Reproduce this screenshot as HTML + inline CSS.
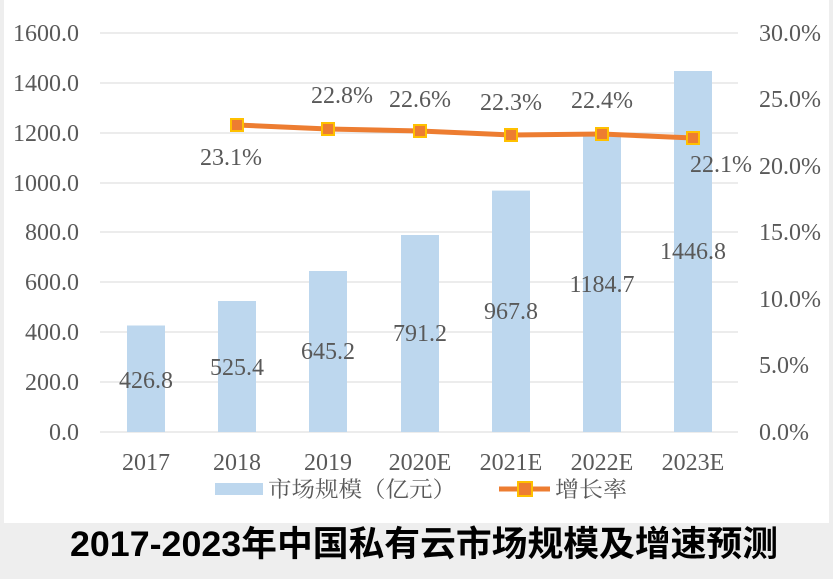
<!DOCTYPE html>
<html><head><meta charset="utf-8"><style>
body{margin:0;background:#eeeeee;}
svg{display:block}
text{font-family:"Liberation Serif","Noto Serif CJK SC",serif;fill:#595959}
</style></head><body>
<svg width="833" height="579" viewBox="0 0 833 579">
<rect x="0" y="0" width="833" height="579" fill="#eeeeee"/>
<rect x="4" y="0" width="825" height="523" fill="#fff"/>
<g stroke="#d9d9d9" stroke-width="1">
<line x1="100" x2="738" y1="33" y2="33"/><line x1="100" x2="738" y1="83" y2="83"/>
<line x1="100" x2="738" y1="133" y2="133"/><line x1="100" x2="738" y1="183" y2="183"/>
<line x1="100" x2="738" y1="232" y2="232"/><line x1="100" x2="738" y1="282" y2="282"/>
<line x1="100" x2="738" y1="332" y2="332"/><line x1="100" x2="738" y1="382" y2="382"/>
<line x1="100" x2="738" y1="432" y2="432"/>
</g>
<g font-size="24" text-anchor="end">
<text x="79" y="41">1600.0</text><text x="79" y="91">1400.0</text><text x="79" y="141">1200.0</text>
<text x="79" y="191">1000.0</text><text x="79" y="240">800.0</text><text x="79" y="290">600.0</text>
<text x="79" y="340">400.0</text><text x="79" y="390">200.0</text><text x="79" y="440">0.0</text>
</g>
<g font-size="24" text-anchor="start">
<text x="759" y="41">30.0%</text><text x="759" y="107">25.0%</text><text x="759" y="174">20.0%</text>
<text x="759" y="240">15.0%</text><text x="759" y="307">10.0%</text><text x="759" y="373">5.0%</text>
<text x="759" y="440">0.0%</text>
</g>
<g fill="#bdd7ee">
<rect x="127" y="325.5" width="38" height="106.5"/>
<rect x="218" y="301" width="38" height="131"/>
<rect x="309" y="271" width="38" height="161"/>
<rect x="401" y="235" width="38" height="197"/>
<rect x="492" y="190.6" width="38" height="241.4"/>
<rect x="583" y="136.5" width="38" height="295.5"/>
<rect x="674" y="71" width="38" height="361"/>
</g>
<g font-size="24" text-anchor="middle" fill="#404040">
<text x="146" y="388">426.8</text><text x="237" y="375">525.4</text><text x="328" y="359">645.2</text>
<text x="420" y="341">791.2</text><text x="511" y="319">967.8</text><text x="602" y="292">1184.7</text>
<text x="693" y="259">1446.8</text>
<text x="231" y="165">23.1%</text><text x="342" y="103">22.8%</text><text x="420" y="107">22.6%</text>
<text x="511" y="110">22.3%</text><text x="602" y="108">22.4%</text><text x="721" y="172">22.1%</text>
</g>
<polyline points="237,125 328,129 420,131 511,135 602,134 693,138" fill="none" stroke="#ed7d31" stroke-width="5"/>
<g fill="#ed7d31" stroke="#ffc000" stroke-width="2">
<rect x="231" y="119" width="12" height="12"/><rect x="322" y="123" width="12" height="12"/>
<rect x="414" y="125" width="12" height="12"/><rect x="505" y="129" width="12" height="12"/>
<rect x="596" y="128" width="12" height="12"/><rect x="687" y="132" width="12" height="12"/>
</g>
<g font-size="24" text-anchor="middle">
<text x="146" y="470">2017</text><text x="237" y="470">2018</text><text x="328" y="470">2019</text>
<text x="420" y="470">2020E</text><text x="511" y="470">2021E</text><text x="602" y="470">2022E</text>
<text x="693" y="470">2023E</text>
</g>
<rect x="215" y="483" width="48" height="12" fill="#bdd7ee"/>
<text x="268" y="497" font-size="22" textLength="188" lengthAdjust="spacingAndGlyphs" font-family="Noto Sans CJK SC,sans-serif">市场规模（亿元）</text>
<line x1="499" x2="550" y1="489" y2="489" stroke="#ed7d31" stroke-width="5"/>
<rect x="518" y="482" width="14" height="14" fill="#ed7d31" stroke="#ffc000" stroke-width="2"/>
<text x="555" y="497" font-size="22" textLength="72" lengthAdjust="spacingAndGlyphs" font-family="Noto Sans CJK SC,sans-serif">增长率</text>
<text x="70" y="556" font-size="35" font-weight="bold" textLength="708" lengthAdjust="spacingAndGlyphs" style="fill:#000;font-family:'Liberation Sans','Noto Sans CJK SC',sans-serif">2017-2023年中国私有云市场规模及增速预测</text>
</svg>
</body></html>
